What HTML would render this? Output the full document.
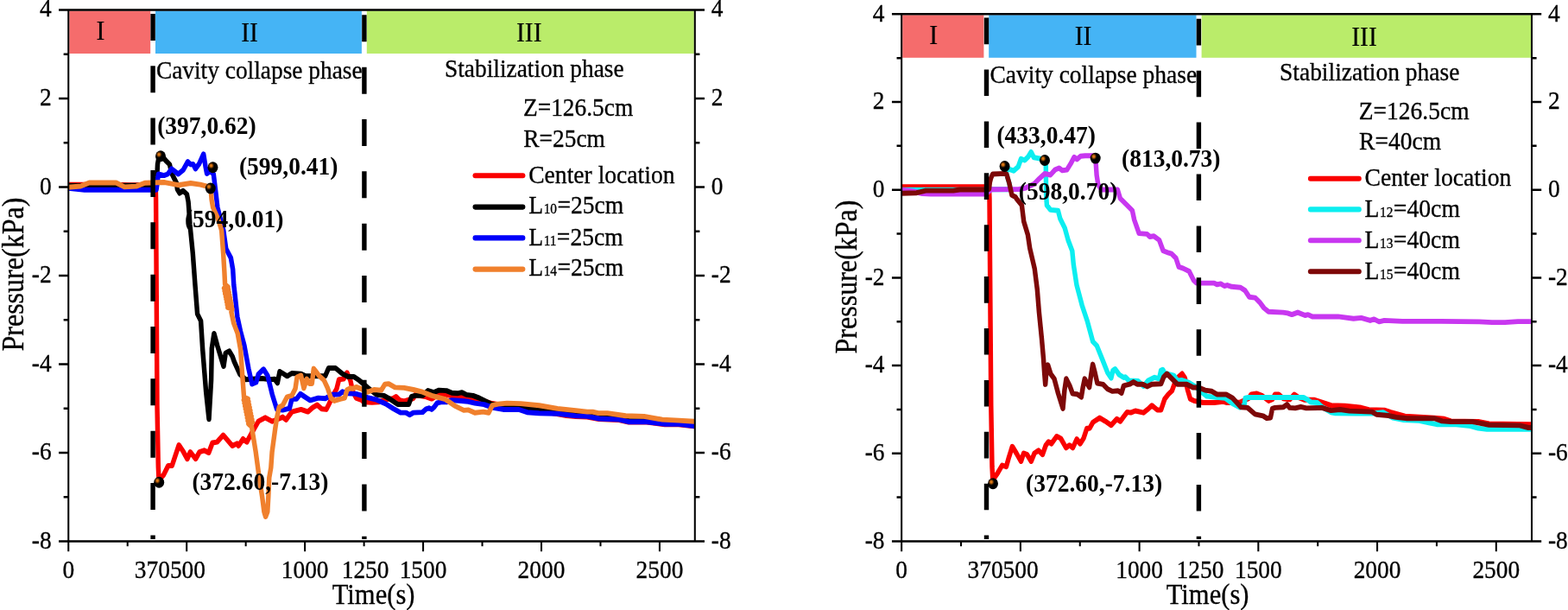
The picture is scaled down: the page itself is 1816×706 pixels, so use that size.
<!DOCTYPE html>
<html lang="en">
<head>
<meta charset="utf-8">
<title>Pressure vs Time</title>
<style>
html,body{margin:0;padding:0;background:#fff;}
body{width:1816px;height:706px;overflow:hidden;}
svg{display:block;filter:blur(0.4px);}
svg text{font-family:'Liberation Serif', serif;fill:#000;}
</style>
</head>
<body>
<svg width="1816" height="706" viewBox="0 0 1816 706">
<defs>
<radialGradient id="ball" cx="0.34" cy="0.35" r="0.6">
<stop offset="0" stop-color="#EE8618"/>
<stop offset="0.16" stop-color="#CC6C0E"/>
<stop offset="0.4" stop-color="#2A1400"/>
<stop offset="0.52" stop-color="#000"/>
<stop offset="1" stop-color="#000"/>
</radialGradient>
</defs>
<rect x="0" y="0" width="1816" height="706" fill="#fff"/>
<g id="left-panel">
<rect x="80.3" y="12.5" width="93.9" height="49.5" fill="#F56C6C"/>
<rect x="180" y="12.5" width="238.9" height="49.5" fill="#45B4F5"/>
<rect x="424.8" y="12.5" width="379" height="49.5" fill="#BAEC6A"/>
<clipPath id="clipL"><rect x="79.25" y="11.5" width="725.55" height="614.9"/></clipPath>
<g clip-path="url(#clipL)"><g transform="scale(1,1.09)" fill="none" stroke-width="5.45" stroke-linejoin="round" stroke-linecap="round">
<polyline points="78.5,195.96 130,196.15 150,196.51 180.2,196.51 180.6,211.01 182,431.19 183.3,495.41 184,510.09 189.5,504.22 194.8,494.5 199.2,494.5 202.7,484.77 207.2,472.57 212.5,479.91 216.9,487.25 220.4,479.91 226.6,487.25 231.1,479.91 236.4,478.26 241.7,480.73 246.1,470.18 251.4,469.36 258.5,462.02 263.8,467.71 269.1,473.39 274.4,471.01 276.2,473.39 281.5,466.06 285.9,469.36 292.1,458.81 299.2,447.43 307.2,443.39 315.1,447.43 324,444.22 327.3,442.75 331.3,445.78 338,437.25 348.6,434.77 356.6,437.25 361.9,432.94 367.3,429.91 372.6,434.22 377.9,434.77 381.2,428.72 386,419.27 389.9,412.84 392.6,403.03 397.9,402.39 401.9,395.69 405.9,404.22 408.5,415.23 412.5,422.57 419.2,425.05 421.4,426.97 430.9,427.43 438.4,426.97 446.9,424.04 455.4,423.03 458.6,421.1 462.8,424.95 468.1,425.96 478.7,423.03 480.9,419.27 492.5,421.1 500,423.49 508.5,418.62 517,419.17 526.5,421.1 534,421.1 547.8,423.03 555,424.95 560,425.69 570,428.44 600,433.03 625,436.24 645,439.45 656,441.28 666.8,442.2 680,442.66 693.8,444.95 717,445.87 728,448.26 749,448.26 770,450.73 786,450.73 804,452.66" stroke="#FA0000"/>
<polyline points="78.5,197.25 130,197.06 181,197.06 181.8,188.07 182.5,174.31 184,166.51 186,165.14 188.5,166.51 192.1,170.64 196.5,174.68 198.7,183.85 202,189.91 204.3,193.94 205.4,201.01 208.1,205.14 212,202.57 216.4,206.15 218.1,214.22 218.6,220.18 220,238.53 223.3,269.08 226,302.75 228.6,333.3 232.6,340.64 234.6,369.91 238.6,415.87 242,445.14 244.6,403.67 245.3,369.91 247.9,354.04 251.9,367.52 259,388.99 261.3,374.86 265.5,372.75 269.2,378.53 271.3,384.04 277.9,397.52 284.6,403.03 303.2,401.83 313.9,403.03 318,402.39 321.3,406.7 324,394.5 327.3,396.33 332.6,399.36 338,396.33 348.6,396.88 353.9,399.36 376.6,399.36 380.6,390.83 388.6,390.83 396.6,396.88 403.2,400 409.9,400 416.5,404.22 425.6,411.38 436.2,419.17 444.7,420.09 452.2,424.04 460.7,429.36 473.4,429.36 476.6,421.1 480.9,420.09 489.4,420.09 495.7,414.77 502.1,416.7 508.5,414.31 517,414.77 523.4,417.16 529.7,417.71 535,416.7 540.3,419.17 547.8,420.09 555,422.57 560.6,425.14 569.1,428.99 592.5,431.93 613.7,433.39 629.7,434.86 656.2,437.8 690,440.73 717,444.5 728,446.79 749,446.97 770,449.54 786,449.72 804,451.38" stroke="#000000"/>
<polyline points="78.5,199.82 98,201.65 181,201.65 182.2,194.5 182.7,189.91 183.5,184.86 189.9,186.33 194.3,184.86 198.7,179.27 206.5,184.86 212,180.73 217.5,171.65 220.8,174.68 223.6,174.22 226.4,179.27 230.8,173.67 235.7,163.58 238,176.7 239.6,184.31 243.5,181.74 247.3,184.86 249.6,202.02 251.9,220.18 258.8,244.59 261.8,264.13 267.4,273.94 269.7,286.15 270.8,302.75 271.8,310.46 273.8,327.16 274.9,336.42 278.5,351.65 281.7,362.39 283,366.97 287.9,391.38 291.9,407.89 296.6,406.06 299.2,397.52 305.2,392.02 309.9,398.72 315.3,418.9 320.7,434.77 327.3,435.41 335.3,433.58 338,423.76 343.3,423.76 347.9,418.26 353.9,421.93 359.3,425.05 368.6,422.57 376.6,423.21 384.6,418.9 392.6,418.9 396.6,415.87 403.2,417.71 412.5,418.26 419.2,420.09 425.6,422.11 436.2,424.5 446.9,428.9 455.4,433.76 463.9,438.17 470.2,438.17 474.5,440.55 478.7,438.17 489.4,437.71 493.6,434.22 496.8,433.3 500,434.77 503.2,431.83 506.4,427.89 510.6,426.97 517,426.97 523.4,424.95 531.8,425.5 542.5,426.42 550,428.07 560.6,429.45 571.2,432.94 584,434.86 601,434.86 610.5,437.8 624.4,438.72 645.6,439.27 666.8,441.65 680,442.11 693.8,444.5 717.2,445.5 727.8,447.89 749,447.89 770.3,450.37 786.2,450.37 803.8,452.29" stroke="#0000FA"/>
<polyline points="78.5,198.9 93.4,197.71 103.3,194.04 134.5,194.04 144.2,198.53 157.8,197.8 167.7,194.31 190,193.58 192.1,193.94 206.5,196.51 220.8,194.5 231.9,195.96 240.7,197.98 244,200 245.1,212.2 246.6,220.18 252.6,232.39 256.6,244.59 258.6,269.08 259.9,288.62 260.6,301.83 264,304.59 259.5,306.06 264.6,307.52 260.1,308.99 265.2,310.46 260.7,311.93 265.8,313.39 261.4,314.86 266.5,316.33 262,317.8 267.1,319.27 262.6,320.73 267.7,322.2 263.2,323.67 268.3,325.14 263.8,326.61 268.9,328.07 267.9,331.19 270.6,343.03 275.2,354.04 278.6,371.19 280.6,397.52 282.6,421.93 287.2,423.39 282.3,424.95 287.9,426.51 283,428.07 288.5,429.63 283.7,431.19 289.2,432.75 284.3,434.31 289.9,435.87 285,437.43 290.5,438.99 285.7,440.55 291.2,442.11 286.3,443.67 291.9,445.23 287,446.79 292.6,448.35 287.7,449.91 291.5,453.21 296.2,479.91 300.2,507.06 303.7,527.8 305.9,543.39 307.6,548.62 309.8,543.39 310.8,527.8 311.8,507.06 313.8,496.61 315.1,479.91 318.7,455.5 320.7,443.3 323.3,432.39 327.3,430.55 332.6,421.38 338,420.09 342,412.75 344,400.55 348.6,398.72 351.9,412.2 355.3,402.39 358.6,407.34 361.3,407.34 363.3,391.38 365.9,394.5 369.9,399.36 375.2,403.67 379.2,411.56 383.2,422.57 387.2,425.6 393.9,423.76 399.2,422.57 401.9,414.04 405.9,412.2 408.5,412.75 412.5,410.92 417.9,412.75 425.6,416.24 433.1,413.76 441.6,414.31 445.8,407.98 450.1,407.43 457.5,411.38 468.1,411.83 478.7,413.76 489.4,416.24 500,420.09 515.9,424.04 526.5,430.83 537.2,435.69 542.5,435.23 550,438.26 559.6,437.25 565.9,438.26 570.2,430.46 576.6,428.99 587.2,428.07 603.1,428.53 624.4,430.46 645.6,433.85 666.8,435.87 680,437.25 686.4,437.25 692.7,438.62 703.4,438.62 724.6,441.56 745.9,442.11 767.1,445.5 786.2,446.42 803.8,447.43" stroke="#F0802D"/>
</g></g>
<line x1="177.1" y1="15.9" x2="177.1" y2="624.1" stroke="#000" stroke-width="5.4" stroke-dasharray="31 29.35"/>
<line x1="421.9" y1="17.3" x2="421.9" y2="624.1" stroke="#000" stroke-width="5.4" stroke-dasharray="31 29.35"/>
<path d="M78.22,11.5H805.82 M78.22,626.4H805.82 M79.25,626.4h-11.2 M804.8,626.4h11.2 M79.25,575.16h-5.6 M804.8,575.16h5.6 M79.25,523.92h-11.2 M804.8,523.92h11.2 M79.25,472.68h-5.6 M804.8,472.68h5.6 M79.25,421.43h-11.2 M804.8,421.43h11.2 M79.25,370.19h-5.6 M804.8,370.19h5.6 M79.25,318.95h-11.2 M804.8,318.95h11.2 M79.25,267.71h-5.6 M804.8,267.71h5.6 M79.25,216.47h-11.2 M804.8,216.47h11.2 M79.25,165.22h-5.6 M804.8,165.22h5.6 M79.25,113.98h-11.2 M804.8,113.98h11.2 M79.25,62.74h-5.6 M804.8,62.74h5.6 M79.25,11.5h-11.2 M804.8,11.5h11.2" stroke="#000" stroke-width="2.5" fill="none"/>
<path d="M79.25,11.5V626.4 M804.8,11.5V626.4 M79.25,626.4v11.8 M147.72,626.4v5.8 M216.19,626.4v11.8 M284.66,626.4v5.8 M353.13,626.4v11.8 M421.6,626.4v5.8 M490.07,626.4v11.8 M558.54,626.4v5.8 M627.01,626.4v11.8 M695.48,626.4v5.8 M763.95,626.4v11.8" stroke="#000" stroke-width="2.05" fill="none"/>
<text transform="translate(59.65,634.8) scale(1,1.11)" font-size="27.4" text-anchor="end" stroke="#000" stroke-width="0.3">-8</text>
<text transform="translate(823.8,634.8) scale(1,1.11)" font-size="27.4" stroke="#000" stroke-width="0.3">-8</text>
<text transform="translate(59.65,532.32) scale(1,1.11)" font-size="27.4" text-anchor="end" stroke="#000" stroke-width="0.3">-6</text>
<text transform="translate(823.8,532.32) scale(1,1.11)" font-size="27.4" stroke="#000" stroke-width="0.3">-6</text>
<text transform="translate(59.65,429.83) scale(1,1.11)" font-size="27.4" text-anchor="end" stroke="#000" stroke-width="0.3">-4</text>
<text transform="translate(823.8,429.83) scale(1,1.11)" font-size="27.4" stroke="#000" stroke-width="0.3">-4</text>
<text transform="translate(59.65,327.35) scale(1,1.11)" font-size="27.4" text-anchor="end" stroke="#000" stroke-width="0.3">-2</text>
<text transform="translate(823.8,327.35) scale(1,1.11)" font-size="27.4" stroke="#000" stroke-width="0.3">-2</text>
<text transform="translate(59.65,224.87) scale(1,1.11)" font-size="27.4" text-anchor="end" stroke="#000" stroke-width="0.3">0</text>
<text transform="translate(823.8,224.87) scale(1,1.11)" font-size="27.4" stroke="#000" stroke-width="0.3">0</text>
<text transform="translate(59.65,122.38) scale(1,1.11)" font-size="27.4" text-anchor="end" stroke="#000" stroke-width="0.3">2</text>
<text transform="translate(823.8,122.38) scale(1,1.11)" font-size="27.4" stroke="#000" stroke-width="0.3">2</text>
<text transform="translate(59.65,19.3) scale(1,1.11)" font-size="27.4" text-anchor="end" stroke="#000" stroke-width="0.3">4</text>
<text transform="translate(823.8,19.3) scale(1,1.11)" font-size="27.4" stroke="#000" stroke-width="0.3">4</text>
<text transform="translate(79.25,668.5) scale(1,1.11)" font-size="27.4" text-anchor="middle" stroke="#000" stroke-width="0.3">0</text>
<text transform="translate(353.13,668.5) scale(1,1.11)" font-size="27.4" text-anchor="middle" stroke="#000" stroke-width="0.3">1000</text>
<text transform="translate(490.07,668.5) scale(1,1.11)" font-size="27.4" text-anchor="middle" stroke="#000" stroke-width="0.3">1500</text>
<text transform="translate(627.01,668.5) scale(1,1.11)" font-size="27.4" text-anchor="middle" stroke="#000" stroke-width="0.3">2000</text>
<text transform="translate(763.95,668.5) scale(1,1.11)" font-size="27.4" text-anchor="middle" stroke="#000" stroke-width="0.3">2500</text>
<text transform="translate(196.9,668.5) scale(1,1.11)" font-size="27.4" text-anchor="end" stroke="#000" stroke-width="0.3">370</text>
<text transform="translate(196.9,668.5) scale(1,1.11)" font-size="27.4" stroke="#000" stroke-width="0.3">500</text>
<text transform="translate(423.1,668.5) scale(1,1.11)" font-size="27.4" text-anchor="middle" stroke="#000" stroke-width="0.3">1250</text>
<text transform="translate(432.6,698.6) scale(1,1.075)" font-size="30.6" text-anchor="middle" stroke="#000" stroke-width="0.3">Time(s)</text>
<text transform="translate(26.6,317.6) rotate(-90) scale(1,1.12)" font-size="32.05" text-anchor="middle" stroke="#000" stroke-width="0.3">Pressure(kPa)</text>
<text transform="translate(116.4,46.4) scale(1,1.06)" font-size="29.6" text-anchor="middle" stroke="#000" stroke-width="0.2">I</text>
<text transform="translate(289,48) scale(1,1.06)" font-size="29.6" text-anchor="middle" stroke="#000" stroke-width="0.2">II</text>
<text transform="translate(612.8,48.4) scale(1,1.06)" font-size="29.6" text-anchor="middle" stroke="#000" stroke-width="0.2">III</text>
<text transform="translate(180.9,91.4) scale(1,1.08)" font-size="27.4" stroke="#000" stroke-width="0.3">Cavity collapse phase</text>
<text transform="translate(515,89) scale(1,1.08)" font-size="27.4" stroke="#000" stroke-width="0.3">Stabilization phase</text>
<text transform="translate(606,134.3) scale(1,1.08)" font-size="27.4" stroke="#000" stroke-width="0.3">Z=126.5cm</text>
<text transform="translate(606.3,170.4) scale(1,1.08)" font-size="27.4" stroke="#000" stroke-width="0.3">R=25cm</text>
<line transform="scale(1,1.09)" x1="550.3" y1="186.51" x2="605.6" y2="186.51" stroke="#FA0000" stroke-width="5.6" stroke-linecap="round"/>
<text transform="translate(612.2,211.8) scale(1,1.08)" font-size="27.6" stroke="#000" stroke-width="0.3">Center location</text>
<line transform="scale(1,1.09)" x1="550.3" y1="219.82" x2="605.6" y2="219.82" stroke="#000000" stroke-width="5.6" stroke-linecap="round"/>
<text transform="translate(612.2,247.3) scale(1,1.08)" font-size="27.6" stroke="#000" stroke-width="0.3">L<tspan font-size="15.4" dx="0.6">10</tspan><tspan dx="0.4">=25cm</tspan></text>
<line transform="scale(1,1.09)" x1="550.3" y1="252.66" x2="605.6" y2="252.66" stroke="#0000FA" stroke-width="5.6" stroke-linecap="round"/>
<text transform="translate(612.2,283.5) scale(1,1.08)" font-size="27.6" stroke="#000" stroke-width="0.3">L<tspan font-size="15.4" dx="0.6">11</tspan><tspan dx="0.4">=25cm</tspan></text>
<line transform="scale(1,1.09)" x1="550.3" y1="285.87" x2="605.6" y2="285.87" stroke="#F0802D" stroke-width="5.6" stroke-linecap="round"/>
<text transform="translate(612.2,319) scale(1,1.08)" font-size="27.6" stroke="#000" stroke-width="0.3">L<tspan font-size="15.4" dx="0.6">14</tspan><tspan dx="0.4">=25cm</tspan></text>
<ellipse cx="186" cy="180.7" rx="6.0" ry="6.45" fill="url(#ball)"/>
<ellipse cx="246.5" cy="193.7" rx="6.0" ry="6.45" fill="url(#ball)"/>
<ellipse cx="243.8" cy="218" rx="6.0" ry="6.45" fill="url(#ball)"/>
<ellipse cx="184.2" cy="558.2" rx="6.0" ry="6.45" fill="url(#ball)"/>
<text transform="translate(182.2,154.5) scale(1,1.1)" font-size="27.5" font-weight="bold">(397,0.62)</text>
<text transform="translate(276.9,202) scale(1,1.1)" font-size="27.5" font-weight="bold">(599,0.41)</text>
<text transform="translate(213.9,262.8) scale(1,1.1)" font-size="27.5" font-weight="bold">(594,0.01)</text>
<text transform="translate(222.4,567) scale(1,1.1)" font-size="27.5" font-weight="bold">(372.60,-7.13)</text>
</g>
<g id="right-panel">
<rect x="1045.2" y="17.35" width="94.2" height="49.45" fill="#F56C6C"/>
<rect x="1145.2" y="17.35" width="240.3" height="49.45" fill="#45B4F5"/>
<rect x="1391.6" y="17.35" width="381.4" height="49.45" fill="#BAEC6A"/>
<clipPath id="clipR"><rect x="1044.15" y="16.35" width="729.85" height="610.05"/></clipPath>
<g clip-path="url(#clipR)"><g transform="scale(1,1.09)" fill="none" stroke-width="5.45" stroke-linejoin="round" stroke-linecap="round">
<polyline points="1043.5,198.44 1100,198.44 1145.5,198.44 1146,211.01 1147.8,431.19 1149,495.41 1149.8,509.82 1155.2,502.66 1160.7,494.04 1165.4,495.5 1168.5,485.5 1172.4,474.04 1177.1,481.19 1182.5,489.82 1185.6,481.19 1189.5,482.66 1194.2,489.82 1198.1,481.19 1202.8,478.35 1207.4,482.66 1211.3,472.66 1214.4,469.08 1217.6,471.19 1223.8,463.3 1228.5,465.5 1234.7,475.5 1238.6,472.66 1242.5,475.5 1247.1,466.24 1251,471.19 1254.9,465.5 1258.8,454.77 1261.9,454.77 1265.8,448.35 1273.6,443.67 1280.2,447.34 1286.9,451.56 1293.5,444.86 1297.5,447.34 1301.5,442.39 1305.5,437.52 1309.5,438.17 1314.9,436.24 1324.4,438.26 1329.7,434.31 1334,430.46 1340.4,435.32 1344.6,435.32 1348.9,423.58 1353.1,418.72 1357.4,414.86 1360.5,407.06 1365.9,399.27 1369,396.79 1372.2,401.19 1375.4,413.85 1378.6,423.58 1382.9,425.6 1393.5,427.52 1406.2,427.52 1416.8,426.51 1421.1,427.52 1436.4,427.06 1445.9,423.12 1449.1,418.81 1455.5,417.8 1461.9,420.28 1469.3,425.6 1473.6,424.13 1476.7,418.81 1481,418.81 1486.3,423.12 1493.7,424.13 1499,418.81 1504.4,422.2 1510.7,424.59 1522.4,424.59 1530.9,427.06 1541.5,430.46 1557.5,430.92 1570,432.11 1576.5,432.84 1585.3,434.95 1603.1,435.5 1610.7,437.8 1627.1,441.93 1661.3,443.67 1672.7,444.77 1680.3,447.16 1712,447.71 1724.6,450 1774,450.64" stroke="#FA0000"/>
<polyline points="1043.5,201.65 1140,201.65 1148,201.19 1170.4,201.19 1168.8,194.13 1165.9,185.32 1165,179.82 1169.7,179.91 1174,181.38 1179.3,176.97 1182.5,168.72 1186.7,170.18 1191,166.24 1194.2,161.38 1197.4,167.25 1203.7,168.26 1209.5,170.18 1211.3,176.06 1211.6,206.42 1212.4,217.89 1216.6,222.84 1225.4,223.58 1227.8,232.11 1233.2,242.11 1237.1,255.05 1241.8,266.42 1243.3,280.73 1246.4,299.27 1247,302.75 1253.2,324.22 1259.4,341.38 1265.7,362.75 1270.3,367.06 1276.6,381.38 1282.9,395.96 1286.9,401.47 1288.9,393.58 1291.5,391.74 1296.2,397.8 1301.5,400.92 1303.2,400.18 1307.4,404.13 1318.1,404.59 1324.4,410 1329.7,404.13 1337.2,400.73 1342.5,402.2 1344.6,393.39 1346.7,392.39 1348.9,396.33 1359.5,398.81 1363.7,404.13 1369,403.67 1376.5,406.06 1385,410.92 1392.4,416.79 1397.7,420.73 1406.2,421.65 1419,422.66 1427.5,428.44 1436,432.57 1441.2,430 1442.2,422.66 1445.9,422.02 1509.7,422.02 1513.9,424.13 1518.2,427.06 1525.6,427.52 1530.9,431.93 1541.5,437.8 1546.8,438.72 1570,438.99 1589.1,438.99 1601.8,437.8 1613.2,443.67 1625.9,445.96 1642.3,446.51 1655,448.9 1663.9,450.64 1686.6,450.64 1703.1,452.39 1712,454.68 1722.1,455.87 1774,455.87" stroke="#0CEEF0"/>
<polyline points="1043.5,201.65 1058,203.21 1068,205.5 1078,206.06 1142,205.96 1145,203.67 1148,201.1 1180.4,200.92 1186.7,199.91 1197.4,195.5 1203.7,189.63 1210.1,184.31 1216.5,185.78 1221.8,180.37 1226.6,178.44 1230.3,180.92 1235.6,180.37 1239.9,174.04 1244.1,166.79 1247.3,169.17 1251.5,165.78 1256.8,165.32 1266.4,165.32 1269.1,172.11 1270.1,185.78 1271.7,195.5 1275.6,201.38 1294.3,201.38 1297.4,210.64 1305.2,217.8 1311.4,223.49 1313.7,233.49 1319.2,247.8 1328.5,248.53 1331.7,251.38 1336.3,250.64 1342.6,254.95 1347.2,266.33 1353.5,268.53 1356.8,269.36 1361.9,274.04 1365.3,283.39 1370.4,284.95 1377.2,288.07 1382.3,297.43 1385.7,300.55 1406.1,300.55 1409.5,302.11 1413.7,301.28 1418,303.67 1421.4,302.84 1426.5,304.4 1436.7,305.23 1441.8,308.35 1446.9,315.32 1453.7,316.15 1458.8,320.83 1463.9,327.06 1469,330.92 1486,331.74 1491.1,332.48 1496.2,334.04 1503,331.74 1511.5,334.86 1514.9,334.04 1520,336.24 1549.7,336.15 1567.6,338.26 1576.5,337.52 1586.9,340.28 1591.4,338.9 1597.3,341.65 1603.3,340.28 1624.1,341.19 1668.7,341.19 1713.3,341.65 1728.1,342.29 1743,342.29 1757.9,341.38 1774,341.38" stroke="#C837F0"/>
<polyline points="1043.5,205.32 1061.6,204.77 1072.2,202.39 1104,202.39 1111.5,201.38 1141.2,201.38 1145.5,200.92 1146.4,193.58 1147.6,189.17 1149.7,184.86 1163.4,184.31 1165.7,184.86 1168.8,194.13 1171.9,207.25 1176.1,209.17 1177.1,210.73 1183.4,217.89 1185.7,235.05 1190.4,249.27 1192.7,263.58 1198.2,285.05 1201.3,307.34 1203.4,331.38 1206.5,359.91 1208.5,380.73 1209.6,395.96 1210.7,408.17 1211.8,395.41 1213.6,387.43 1217,397.25 1221,402.11 1225.6,417.98 1231,433.85 1232.9,414.31 1234.9,402.11 1238.9,409.45 1242.3,417.98 1247.6,418.62 1252.3,421.65 1254.3,410.64 1256.3,402.11 1258.9,406.97 1261.6,411.28 1263.6,398.44 1265.6,386.79 1268.2,395.96 1270.9,406.97 1277.6,408.17 1282.9,413.12 1288.2,415.5 1294.9,414.95 1298.9,417.34 1301.5,409.45 1308.5,407.98 1312.7,405.6 1317,407.98 1323.4,407.98 1328.7,410.46 1334,407.98 1344.6,407.52 1347.8,400.18 1351.5,396.79 1355.2,400.18 1363.7,407.98 1374.4,407.98 1381.8,411.47 1388.2,411.47 1395.6,414.31 1403,415.32 1409.4,418.72 1420,418.72 1427.5,422.66 1437.4,432.39 1444.9,432.94 1453.4,439.72 1462.9,441.65 1467.2,444.13 1471.4,443.67 1473.6,433.85 1476.7,432.94 1486.3,432.39 1490.5,429.45 1493.7,432.94 1500.1,433.39 1506.5,431.93 1512.9,433.39 1530.9,432.94 1541.5,435.87 1552.2,434.86 1562.8,436.33 1589.1,437.25 1594.2,440.18 1608.1,441.28 1617,443.03 1629.7,444.22 1661.3,444.22 1670.2,447.16 1680.3,447.71 1705.6,447.71 1712,448.9 1724.6,451.19 1760.1,451.74 1770.2,454.13 1774,454.13" stroke="#7D0808"/>
</g></g>
<line x1="1142.5" y1="20.6" x2="1142.5" y2="624.1" stroke="#000" stroke-width="5.4" stroke-dasharray="30.6 29.3"/>
<line x1="1388.4" y1="21.8" x2="1388.4" y2="624.1" stroke="#000" stroke-width="5.4" stroke-dasharray="30.6 29.3"/>
<path d="M1043.12,16.35H1775.03 M1043.12,626.4H1775.03 M1044.15,626.4h-11.2 M1774,626.4h11.2 M1044.15,575.56h-5.6 M1774,575.56h5.6 M1044.15,524.73h-11.2 M1774,524.73h11.2 M1044.15,473.89h-5.6 M1774,473.89h5.6 M1044.15,423.05h-11.2 M1774,423.05h11.2 M1044.15,372.21h-5.6 M1774,372.21h5.6 M1044.15,321.38h-11.2 M1774,321.38h11.2 M1044.15,270.54h-5.6 M1774,270.54h5.6 M1044.15,219.7h-11.2 M1774,219.7h11.2 M1044.15,168.86h-5.6 M1774,168.86h5.6 M1044.15,118.03h-11.2 M1774,118.03h11.2 M1044.15,67.19h-5.6 M1774,67.19h5.6 M1044.15,16.35h-11.2 M1774,16.35h11.2" stroke="#000" stroke-width="2.5" fill="none"/>
<path d="M1044.15,16.35V626.4 M1774,16.35V626.4 M1044.15,626.4v11.8 M1113.02,626.4v5.8 M1181.88,626.4v11.8 M1250.75,626.4v5.8 M1319.61,626.4v11.8 M1388.47,626.4v5.8 M1457.34,626.4v11.8 M1526.2,626.4v5.8 M1595.07,626.4v11.8 M1663.93,626.4v5.8 M1732.8,626.4v11.8" stroke="#000" stroke-width="2.05" fill="none"/>
<text transform="translate(1024.55,634.6) scale(1,1.11)" font-size="27.4" text-anchor="end" stroke="#000" stroke-width="0.3">-8</text>
<text transform="translate(1793,634.6) scale(1,1.11)" font-size="27.4" stroke="#000" stroke-width="0.3">-8</text>
<text transform="translate(1024.55,532.93) scale(1,1.11)" font-size="27.4" text-anchor="end" stroke="#000" stroke-width="0.3">-6</text>
<text transform="translate(1793,532.93) scale(1,1.11)" font-size="27.4" stroke="#000" stroke-width="0.3">-6</text>
<text transform="translate(1024.55,431.25) scale(1,1.11)" font-size="27.4" text-anchor="end" stroke="#000" stroke-width="0.3">-4</text>
<text transform="translate(1793,431.25) scale(1,1.11)" font-size="27.4" stroke="#000" stroke-width="0.3">-4</text>
<text transform="translate(1024.55,329.57) scale(1,1.11)" font-size="27.4" text-anchor="end" stroke="#000" stroke-width="0.3">-2</text>
<text transform="translate(1793,329.57) scale(1,1.11)" font-size="27.4" stroke="#000" stroke-width="0.3">-2</text>
<text transform="translate(1024.55,227.9) scale(1,1.11)" font-size="27.4" text-anchor="end" stroke="#000" stroke-width="0.3">0</text>
<text transform="translate(1793,227.9) scale(1,1.11)" font-size="27.4" stroke="#000" stroke-width="0.3">0</text>
<text transform="translate(1024.55,126.23) scale(1,1.11)" font-size="27.4" text-anchor="end" stroke="#000" stroke-width="0.3">2</text>
<text transform="translate(1793,126.23) scale(1,1.11)" font-size="27.4" stroke="#000" stroke-width="0.3">2</text>
<text transform="translate(1024.55,24.55) scale(1,1.11)" font-size="27.4" text-anchor="end" stroke="#000" stroke-width="0.3">4</text>
<text transform="translate(1793,24.55) scale(1,1.11)" font-size="27.4" stroke="#000" stroke-width="0.3">4</text>
<text transform="translate(1044.15,668.5) scale(1,1.11)" font-size="27.4" text-anchor="middle" stroke="#000" stroke-width="0.3">0</text>
<text transform="translate(1319.61,668.5) scale(1,1.11)" font-size="27.4" text-anchor="middle" stroke="#000" stroke-width="0.3">1000</text>
<text transform="translate(1457.34,668.5) scale(1,1.11)" font-size="27.4" text-anchor="middle" stroke="#000" stroke-width="0.3">1500</text>
<text transform="translate(1595.07,668.5) scale(1,1.11)" font-size="27.4" text-anchor="middle" stroke="#000" stroke-width="0.3">2000</text>
<text transform="translate(1732.8,668.5) scale(1,1.11)" font-size="27.4" text-anchor="middle" stroke="#000" stroke-width="0.3">2500</text>
<text transform="translate(1161.6,668.5) scale(1,1.11)" font-size="27.4" text-anchor="end" stroke="#000" stroke-width="0.3">370</text>
<text transform="translate(1161.6,668.5) scale(1,1.11)" font-size="27.4" stroke="#000" stroke-width="0.3">500</text>
<text transform="translate(1389.97,668.5) scale(1,1.11)" font-size="27.4" text-anchor="middle" stroke="#000" stroke-width="0.3">1250</text>
<text transform="translate(1398.6,698.6) scale(1,1.075)" font-size="30.6" text-anchor="middle" stroke="#000" stroke-width="0.3">Time(s)</text>
<text transform="translate(992.3,320.5) rotate(-90) scale(1,1.12)" font-size="32.05" text-anchor="middle" stroke="#000" stroke-width="0.3">Pressure(kPa)</text>
<text transform="translate(1081.3,50.6) scale(1,1.06)" font-size="29.6" text-anchor="middle" stroke="#000" stroke-width="0.2">I</text>
<text transform="translate(1254.5,52.2) scale(1,1.06)" font-size="29.6" text-anchor="middle" stroke="#000" stroke-width="0.2">II</text>
<text transform="translate(1580,52.6) scale(1,1.06)" font-size="29.6" text-anchor="middle" stroke="#000" stroke-width="0.2">III</text>
<text transform="translate(1146.5,95.5) scale(1,1.08)" font-size="27.5" stroke="#000" stroke-width="0.3">Cavity collapse phase</text>
<text transform="translate(1482,93.2) scale(1,1.08)" font-size="27.5" stroke="#000" stroke-width="0.3">Stabilization phase</text>
<text transform="translate(1573.8,138.2) scale(1,1.08)" font-size="27.5" stroke="#000" stroke-width="0.3">Z=126.5cm</text>
<text transform="translate(1574.1,173.4) scale(1,1.08)" font-size="27.5" stroke="#000" stroke-width="0.3">R=40cm</text>
<line transform="scale(1,1.09)" x1="1517.7" y1="189.72" x2="1574" y2="189.72" stroke="#FA0000" stroke-width="5.6" stroke-linecap="round"/>
<text transform="translate(1580.5,214.8) scale(1,1.08)" font-size="27.7" stroke="#000" stroke-width="0.3">Center location</text>
<line transform="scale(1,1.09)" x1="1517.7" y1="222.39" x2="1574" y2="222.39" stroke="#0CEEF0" stroke-width="5.6" stroke-linecap="round"/>
<text transform="translate(1580.5,250.9) scale(1,1.08)" font-size="27.7" stroke="#000" stroke-width="0.3">L<tspan font-size="15.4" dx="0.6">12</tspan><tspan dx="0.4">=40cm</tspan></text>
<line transform="scale(1,1.09)" x1="1517.7" y1="255.23" x2="1574" y2="255.23" stroke="#C837F0" stroke-width="5.6" stroke-linecap="round"/>
<text transform="translate(1580.5,286.5) scale(1,1.08)" font-size="27.7" stroke="#000" stroke-width="0.3">L<tspan font-size="15.4" dx="0.6">13</tspan><tspan dx="0.4">=40cm</tspan></text>
<line transform="scale(1,1.09)" x1="1517.7" y1="288.26" x2="1574" y2="288.26" stroke="#7D0808" stroke-width="5.6" stroke-linecap="round"/>
<text transform="translate(1580.5,322.6) scale(1,1.08)" font-size="27.7" stroke="#000" stroke-width="0.3">L<tspan font-size="15.4" dx="0.6">15</tspan><tspan dx="0.4">=40cm</tspan></text>
<ellipse cx="1163.6" cy="192.5" rx="6.0" ry="6.45" fill="url(#ball)"/>
<ellipse cx="1210" cy="185.5" rx="6.0" ry="6.45" fill="url(#ball)"/>
<ellipse cx="1268.7" cy="183.1" rx="6.0" ry="6.45" fill="url(#ball)"/>
<ellipse cx="1150" cy="559.8" rx="6.0" ry="6.45" fill="url(#ball)"/>
<text transform="translate(1154.4,165.9) scale(1,1.1)" font-size="27.5" font-weight="bold">(433,0.47)</text>
<text transform="translate(1299,193) scale(1,1.1)" font-size="27.5" font-weight="bold">(813,0.73)</text>
<text transform="translate(1179.8,230.6) scale(1,1.1)" font-size="27.5" font-weight="bold">(598,0.70)</text>
<text transform="translate(1188.1,569.4) scale(1,1.1)" font-size="27.5" font-weight="bold">(372.60,-7.13)</text>
</g>
</svg>
</body>
</html>
